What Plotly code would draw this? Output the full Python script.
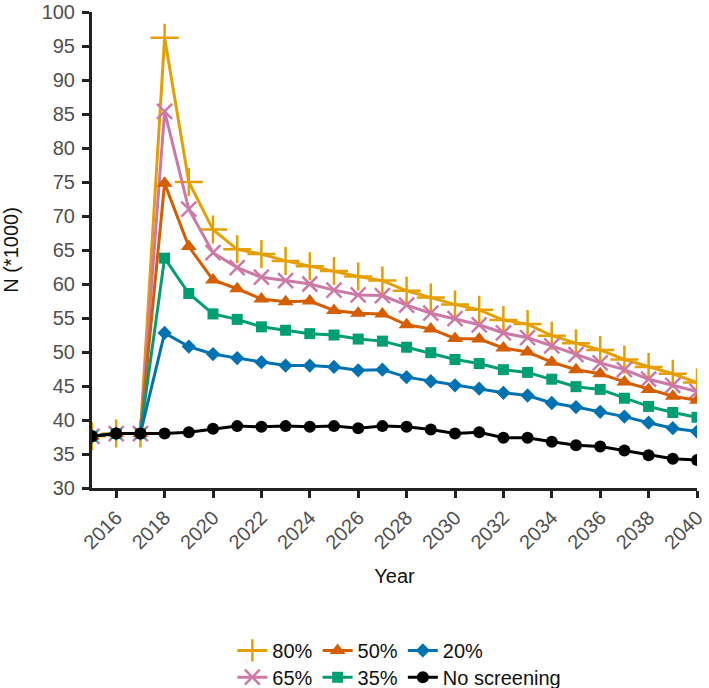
import plotly.graph_objects as go

years = list(range(2015, 2041))

s80 = [37.6, 38.0, 38.0, 96.2, 75.0, 68.0, 65.1, 64.4, 63.4, 62.6, 61.9, 61.1, 60.5, 59.0,
       58.0, 57.0, 56.2, 54.7, 54.1, 52.4, 51.3, 50.3, 48.9, 47.8, 46.8, 45.5]
s65 = [37.6, 38.0, 38.0, 85.4, 71.0, 64.6, 62.4, 61.0, 60.5, 60.0, 59.1, 58.4, 58.3, 56.9,
       55.7, 54.9, 54.0, 52.8, 52.1, 50.9, 49.6, 48.4, 47.4, 46.0, 45.1, 44.2]
s50 = [37.6, 38.0, 38.0, 74.8, 65.5, 60.6, 59.3, 57.8, 57.4, 57.5, 56.1, 55.7, 55.6, 54.0,
       53.4, 52.0, 51.9, 50.6, 50.0, 48.5, 47.4, 46.8, 45.6, 44.5, 43.5, 42.9]
s35 = [37.6, 38.0, 38.0, 63.8, 58.6, 55.6, 54.8, 53.7, 53.2, 52.7, 52.5, 51.9, 51.6, 50.7,
       49.9, 48.9, 48.3, 47.4, 47.0, 46.0, 44.9, 44.5, 43.2, 42.0, 41.1, 40.4]
s20 = [37.6, 38.0, 38.0, 52.8, 50.8, 49.7, 49.1, 48.5, 48.0, 48.0, 47.8, 47.3, 47.4, 46.3,
       45.7, 45.1, 44.6, 44.0, 43.6, 42.5, 41.9, 41.2, 40.5, 39.6, 38.8, 38.3]
s0 = [37.6, 38.0, 38.0, 38.0, 38.2, 38.7, 39.1, 39.0, 39.1, 39.0, 39.1, 38.8, 39.1, 39.0,
      38.6, 38.0, 38.2, 37.4, 37.4, 36.8, 36.3, 36.1, 35.5, 34.8, 34.3, 34.1]

y_ticks = list(range(30, 101, 5))
x_ticks = list(range(2016, 2041, 2))

# name, values, colour, symbol, size, legend, rank
series = [
    ("80%", s80, "#E69F00", "cross-thin", 20, "legend", 1),
    ("65%", s65, "#CC79A7", "x-thin", 15, "legend2", 1),
    ("50%", s50, "#D55E00", "triangle-up", 14, "legend", 2),
    ("35%", s35, "#009E73", "square", 11, "legend2", 2),
    ("20%", s20, "#0072B2", "diamond", 11, "legend", 3),
    ("No screening", s0, "#000000", "circle", 12, "legend2", 3),
]

fig = go.Figure()
for name, vals, col, sym, size, leg, rank in series:
    thin = sym.endswith("thin")
    fig.add_trace(go.Scatter(
        x=years, y=vals, name=name, mode="lines+markers",
        line=dict(color=col, width=3),
        marker=dict(symbol=sym, size=size, color=col,
                    line=dict(color=col, width=2.5 if thin else 0)),
        legend=leg, legendrank=rank,
    ))

axis_col = "#222222"
tick_col = "#505050"
leg_common = dict(orientation="h", xref="paper", yref="container",
                  xanchor="left", yanchor="top", font=dict(size=20, color="#111111"),
                  bgcolor="rgba(0,0,0,0)")
fig.update_layout(
    width=709, height=688,
    margin=dict(l=92, r=12, t=12, b=200),
    paper_bgcolor="white", plot_bgcolor="white",
    font=dict(family="Liberation Sans, Arial, sans-serif", size=20, color="#111111"),
    showlegend=True,
    legend=dict(x=0.232, y=0.083, **leg_common),
    legend2=dict(x=0.232, y=0.044, **leg_common),
    xaxis=dict(range=[2015, 2040], tickvals=x_ticks, tickangle=-45, automargin=False,
               showgrid=False, zeroline=False, showline=True, linecolor=axis_col, linewidth=3,
               ticks="outside", ticklen=7, tickwidth=2.5, tickcolor=axis_col,
               tickfont=dict(size=20, color=tick_col),
               title=dict(text="Year", font=dict(size=20, color="#111111"), standoff=17)),
    yaxis=dict(range=[30, 100], tickvals=y_ticks, automargin=False,
               showgrid=False, zeroline=False, showline=True, linecolor=axis_col, linewidth=3,
               ticks="outside", ticklen=7, tickwidth=2.5, tickcolor=axis_col,
               tickfont=dict(size=20, color=tick_col), ticklabelstandoff=3,
               ticklabeloverflow="allow",
               title=dict(text="N (*1000)", font=dict(size=20, color="#111111"), standoff=20)),
)

# remove the browser's default 8px page margin so the figure sits at the window origin
fig.write_html("out.html", config={"displayModeBar": False},
               post_script="document.body.style.margin='0';")
